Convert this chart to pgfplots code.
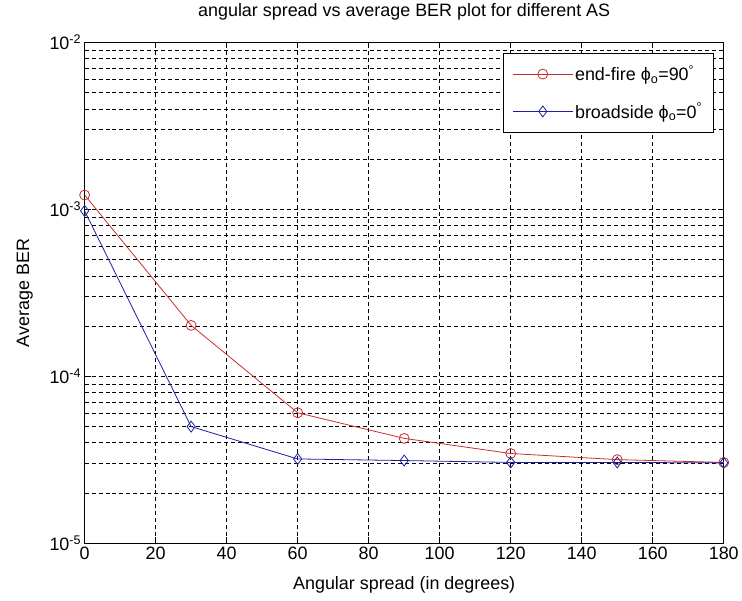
\documentclass[border=0pt]{standalone}
\usepackage{fontspec}
\setmainfont{Liberation Sans}
\usepackage{pgfplots}
\pgfplotsset{compat=1.18}
\definecolor{myred}{RGB}{200,45,45}
\definecolor{myblue}{RGB}{30,30,160}
\newcommand\fs{\fontsize{18bp}{21bp}\selectfont}
\begin{document}
\begin{tikzpicture}
\begin{axis}[
  at={(0,0)}, anchor=south west,
  scale only axis, width=642bp, height=503bp,
  xmin=0, xmax=180, ymin=1e-5, ymax=1e-2, ymode=log,
  xtick={0,20,...,180},
  ytick={1e-5,1e-4,1e-3,1e-2},
  yticklabels={10\textsuperscript{-5},10\textsuperscript{-4},10\textsuperscript{-3},10\textsuperscript{-2}},
  minor ytick={2e-5,3e-5,4e-5,5e-5,6e-5,7e-5,8e-5,9e-5,2e-4,3e-4,4e-4,5e-4,6e-4,7e-4,8e-4,9e-4,2e-3,3e-3,4e-3,5e-3,6e-3,7e-3,8e-3,9e-3},
  grid=both,
  major grid style={black, line width=0.6bp, dash pattern=on 4bp off 3bp},
  minor grid style={black, line width=0.6bp, dash pattern=on 4bp off 3bp},
  tick align=inside, major tick length=6bp, minor tick length=3bp,
  axis line style={black, line width=0.8bp},
  tick style={black, line width=0.6bp},
  ticklabel style={font=\fs},
  /pgf/number format/assume math mode=true,
  title={angular spread vs average BER plot for different AS},
  title style={font=\fs, at={(axis description cs:0.5,1)}, anchor=center, yshift=25bp},
  xlabel={Angular spread (in degrees)},
  xlabel style={font=\fs, at={(axis description cs:0.5,0)}, anchor=center, yshift=-42bp},
  ylabel={Average BER},
  ylabel style={font=\fs, at={(axis description cs:-0.0935,0.5)}, anchor=center},
  legend style={at={(rel axis cs:0.984,0.98)}, anchor=north east, draw=black, fill=white,
    line width=0.8bp, font=\fs, inner xsep=9bp, inner ysep=11bp, row sep=17bp,
    /tikz/every even column/.append style={column sep=6bp}},
  legend cell align=left,
  legend image code/.code={\draw[mark repeat=2,mark phase=2,#1] plot coordinates {(0bp,0bp) (30bp,0bp) (60bp,0bp)};},
]
\addplot[myred, line width=0.8bp, mark=o, mark size=5bp, mark options={line width=0.8bp}]
  coordinates {(0,1.22e-3) (30,2.02e-4) (60,6.05e-5) (90,4.25e-5) (120,3.45e-5) (150,3.17e-5) (180,3.05e-5)};
\addlegendentry{end-fire ϕ\textsubscript{o}=90\textsuperscript{°}}
\addplot[myblue, line width=0.8bp, mark=diamond, mark size=5.5bp, mark options={line width=0.8bp}]
  coordinates {(0,0.98e-3) (30,5.0e-5) (60,3.2e-5) (90,3.13e-5) (120,3.05e-5) (150,3.05e-5) (180,3.03e-5)};
\addlegendentry{broadside ϕ\textsubscript{o}=0\textsuperscript{°}}
\end{axis}
\path (-85bp,-58bp) rectangle (657bp,543bp);
\end{tikzpicture}
\end{document}
